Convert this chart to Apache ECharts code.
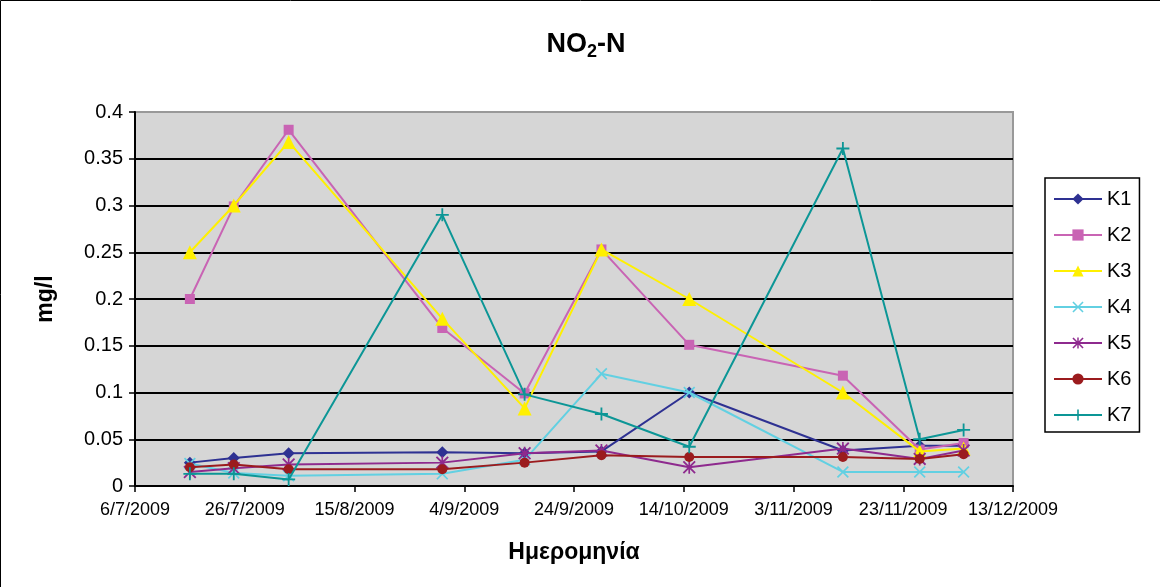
<!DOCTYPE html>
<html>
<head>
<meta charset="utf-8">
<script src="https://cdn.jsdelivr.net/npm/echarts@6/dist/echarts.min.js"></script>
<style>
html,body{margin:0;padding:0;background:#fff;}
#chart{width:1160px;height:587px;}
</style>
</head>
<body>
<div id="chart"></div>
<script>
// ---- data ----
const axisStart = '2009-07-06';
const tickLabels = ['6/7/2009','26/7/2009','15/8/2009','4/9/2009','24/9/2009','14/10/2009','3/11/2009','23/11/2009','13/12/2009'];
const dates = ['2009-07-16','2009-07-24','2009-08-03','2009-08-31','2009-09-15','2009-09-29','2009-10-15','2009-11-12','2009-11-26','2009-12-04'];
const seriesNames = ['K1','K2','K3','K4','K5','K6','K7'];
const K1 = [0.025,0.030,0.035,0.036,0.035,0.037,0.100,0.038,0.043,0.043];
const K2 = [0.200,0.299,0.381,0.169,0.099,0.253,0.151,0.118,0.039,0.046];
const K3 = [0.250,0.300,0.368,0.179,0.083,0.253,0.200,0.100,0.037,0.040];
const K4 = [0.024,0.014,0.011,0.013,0.028,0.120,0.100,0.015,0.015,0.015];
const K5 = [0.015,0.019,0.023,0.025,0.035,0.038,0.020,0.040,0.029,0.038];
const K6 = [0.020,0.023,0.018,0.018,0.025,0.033,0.031,0.031,0.029,0.034];
const K7 = [0.013,0.013,0.007,0.290,0.098,0.077,0.042,0.361,0.050,0.060];
const values = [K1,K2,K3,K4,K5,K6,K7];

// ---- styles ----
const colors = ['#2E3192','#C964B4','#FFF000','#62D0E2','#8E2A8E','#9B1B1E','#0C9696'];
const X_PATH = 'path://M0,1L1,0L5,4L9,0L10,1L6,5L10,9L9,10L5,6L1,10L0,9L4,5Z';
const STAR_PATH = 'path://M0,1L1,0L5,4L9,0L10,1L6,5L10,9L9,10L5,6L1,10L0,9L4,5Z M4.35,0L5.65,0L5.65,10L4.35,10Z';
const PLUS_PATH = 'path://M4.3,0L5.7,0L5.7,4.3L10,4.3L10,5.7L5.7,5.7L5.7,10L4.3,10L4.3,5.7L0,5.7L0,4.3L4.3,4.3Z';
const symbols = ['diamond','rect','triangle',X_PATH,STAR_PATH,'circle',PLUS_PATH];
const symbolSizes = [12,10,14,12,13,10,13];

const DAY = 86400000;
function dayOffset(s){
  const a = s.split('-').map(Number), b = axisStart.split('-').map(Number);
  return (Date.UTC(a[0],a[1]-1,a[2]) - Date.UTC(b[0],b[1]-1,b[2]))/DAY;
}
const xs = dates.map(dayOffset);

const series = seriesNames.map((n,i)=>({
  name:n, type:'line',
  data: xs.map((x,j)=>[x, values[i][j]]),
  symbol: symbols[i], symbolSize: symbolSizes[i],
  showAllSymbol:true,
  lineStyle:{color:colors[i], width:2},
  itemStyle:{color:colors[i]},
  z: 3+i
}));

const chart = echarts.init(document.getElementById('chart'));
chart.setOption({
  animation:false,
  backgroundColor:'#fff',
  graphic:[
    {type:'rect', shape:{x:0.5,y:0.5,width:1300,height:800}, style:{fill:'none',stroke:'#000',lineWidth:1}, silent:true},
    {type:'text', x:586, y:45, style:{
      text:'{a|NO}{b|2}{a|-N}', align:'center', verticalAlign:'middle',
      rich:{
        a:{fontFamily:'Liberation Sans, Arial, sans-serif', fontWeight:'bold', fontSize:27, lineHeight:32, fill:'#000'},
        b:{fontFamily:'Liberation Sans, Arial, sans-serif', fontWeight:'bold', fontSize:18, lineHeight:18, verticalAlign:'bottom', fill:'#000'}
      }}}
  ],
  grid:{left:135, top:112, width:878, height:374, show:true, backgroundColor:'#D6D6D6', borderColor:'#999', borderWidth:2},
  legend:{
    orient:'vertical', left:1045, top:178,
    padding:[11,8,7,8],
    itemWidth:48, itemHeight:14, itemGap:16,
    borderColor:'#000', borderWidth:1.5,
    textStyle:{fontFamily:'Liberation Sans, Arial, sans-serif', fontSize:20, lineHeight:20, color:'#000'},
    data:seriesNames
  },
  xAxis:{
    type:'value', min:0, max:160, interval:20,
    name:'Ημερομηνία', nameLocation:'middle', nameGap:55,
    nameTextStyle:{fontFamily:'Liberation Sans, Arial, sans-serif', fontWeight:'bold', fontSize:23, color:'#000'},
    axisLine:{show:true, onZero:false, lineStyle:{color:'#000', width:2}},
    axisTick:{show:true, inside:false, length:6, lineStyle:{color:'#000', width:1.5}},
    axisLabel:{fontFamily:'Liberation Sans, Arial, sans-serif', fontSize:18, color:'#000', margin:15,
      formatter:(v)=>tickLabels[Math.round(v/20)] || ''},
    splitLine:{show:false}
  },
  yAxis:{
    type:'value', min:0, max:0.4, interval:0.05,
    name:'mg/l', nameLocation:'middle', nameGap:78, nameRotate:90,
    nameTextStyle:{fontFamily:'Liberation Sans, Arial, sans-serif', fontWeight:'bold', fontSize:23, color:'#000'},
    axisLine:{show:true, lineStyle:{color:'#000', width:2}},
    axisTick:{show:true, inside:false, length:6, lineStyle:{color:'#000', width:1.5}},
    axisLabel:{fontFamily:'Liberation Sans, Arial, sans-serif', fontSize:20, color:'#000', margin:12},
    splitLine:{show:true, lineStyle:{color:['#000','#000','#000','#000','#000','#000','#000','#000','#999'], width:2}}
  },
  series: series
});
</script>
</body>
</html>
